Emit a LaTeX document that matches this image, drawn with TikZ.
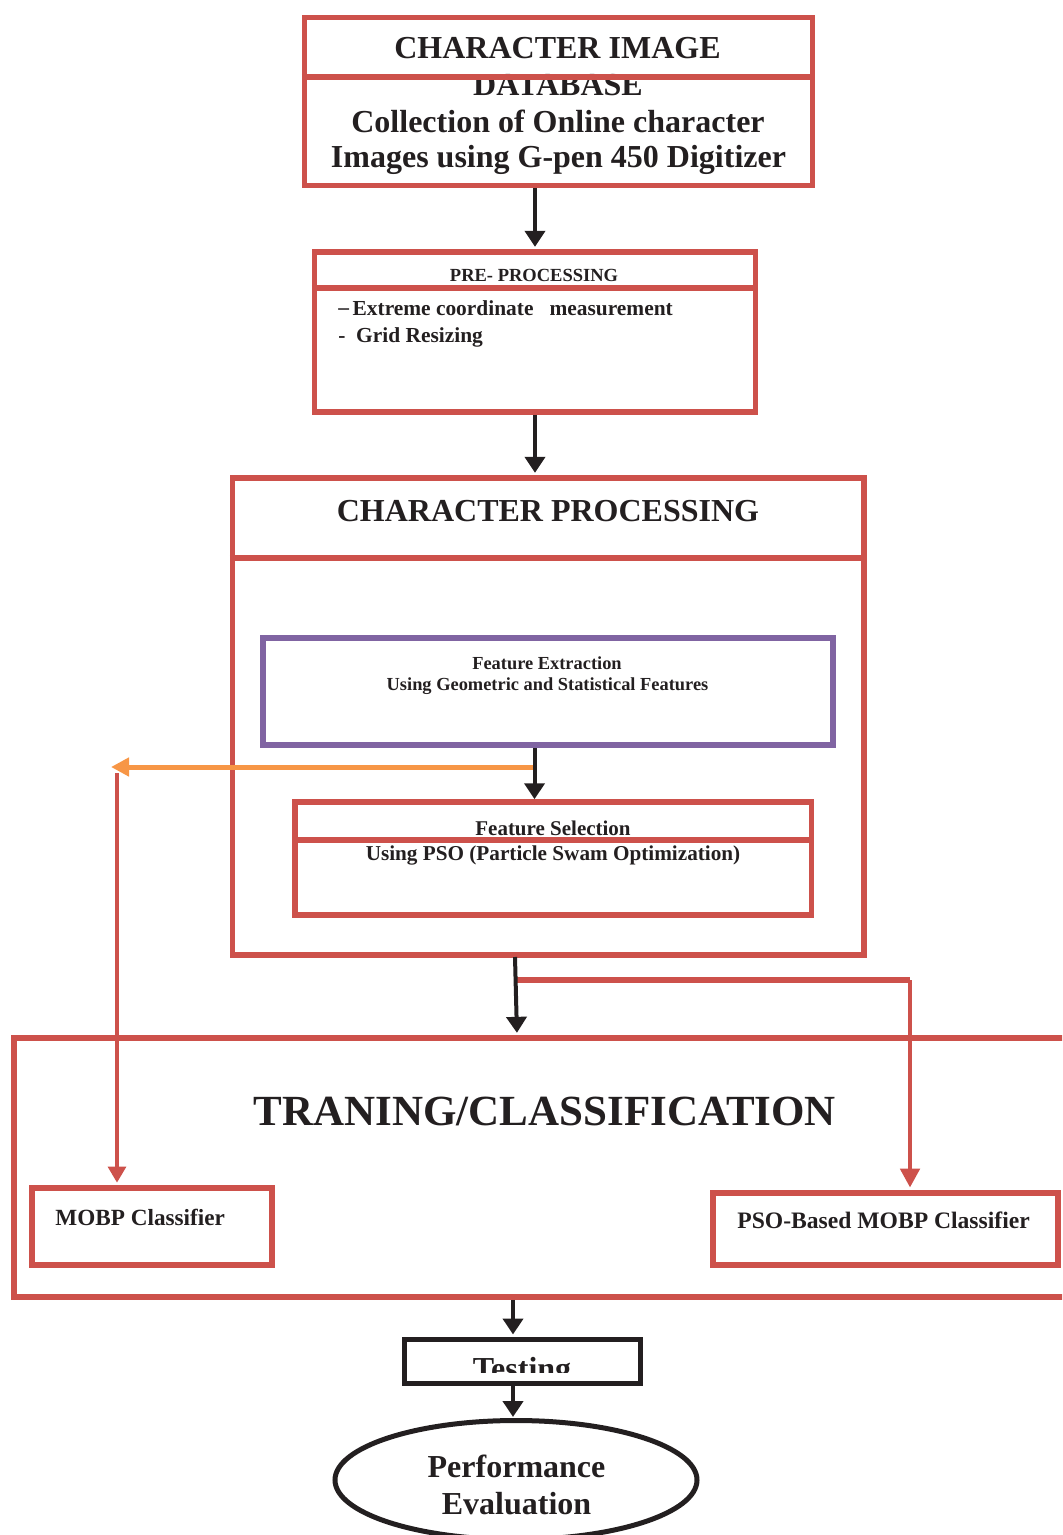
\documentclass[tikz,border=0pt]{standalone}
\usepackage{fontspec}
\setmainfont{Liberation Serif}
\usetikzlibrary{arrows.meta,fit,shapes.geometric}
\definecolor{boxred}{RGB}{205,81,75}
\definecolor{boxpurple}{RGB}{128,100,162}
\definecolor{arrorange}{RGB}{247,150,70}
\definecolor{inkblack}{RGB}{35,31,32}
\newcommand{\fsz}[1]{\fontsize{#1pt}{#1pt}\selectfont}
\tikzset{
  redbox/.style={draw=boxred, line width=2.75pt, inner sep=0pt},
  purplebox/.style={draw=boxpurple, line width=3pt, inner sep=0pt},
  blackbox/.style={draw=inkblack, line width=2.5pt, inner sep=0pt},
  divider/.style={draw=boxred, line width=3pt},
  lbl/.style={anchor=base, inner sep=0pt, font=\bfseries, text=inkblack},
  lbll/.style={lbl, anchor=base west},
  blkarrow/.style={draw=inkblack, line width=2pt, -{Triangle[width=10pt,length=8pt]}},
  orgarrow/.style={draw=arrorange, line width=2.5pt, -{Triangle[width=9pt,length=9pt]}},
  redarrow/.style={draw=boxred, line width=1.6pt, -{Triangle[width=9pt,length=8pt]}},
  redarrowthick/.style={draw=boxred, line width=2.75pt},
}
\begin{document}
\begin{tikzpicture}[x=0.5pt,y=-0.5pt]
\useasboundingbox (0,0) rectangle (1062,1535);
\clip (0,0) rectangle (1062,1535);

% ---------- Box 1 ----------
\node[lbl] (t1a) at (557.5,59) {\fsz{16}CHARACTER IMAGE};
\node[lbl] (t1b) at (558,96) {\fsz{16}DATABASE};
\node[lbl] (t1c) at (558,133) {\fsz{16}Collection of Online character};
\node[lbl] (t1d) at (558.5,168) {\fsz{16}Images using G-pen 450 Digitizer};
\node[redbox, fit={(304.5,17.5) (812.5,185.5)}] (db) {};
\draw[divider] (db.west |- 0,77.5) -- (db.east |- 0,77.5);

% ---------- Box 2 ----------
\node[lbl] (t2a) at (534,282) {\fsz{9.25}PRE- PROCESSING};
\node[lbll] (t2b) at (338,316) {\fsz{10.7}\raisebox{0.6pt}{\textendash}\,Extreme coordinate \ \ measurement};
\node[lbll] (t2c) at (338,343) {\fsz{10.7}- \ Grid Resizing};
\node[redbox, fit={(314.5,252) (755.5,412)}] (pre) {};
\draw[divider] (pre.west |- 0,288) -- (pre.east |- 0,288);

% ---------- Box 3 ----------
\node[lbl] (t3a) at (548,521) {\fsz{16}CHARACTER PROCESSING};
\node[redbox, fit={(232.5,478) (864,955)}] (cp) {};
\draw[divider] (cp.west |- 0,558) -- (cp.east |- 0,558);

\node[lbl] (t4a) at (547,669) {\fsz{9.2}Feature Extraction};
\node[lbl] (t4b) at (547.5,690) {\fsz{9.2}Using Geometric and Statistical Features};
\node[purplebox, fit={(262.5,638) (833,745)}] (fe) {};

\node[lbl] (t5a) at (553,835) {\fsz{10.5}Feature Selection};
\node[lbl] (t5b) at (553,860) {\fsz{10.6}Using PSO (Particle Swam Optimization)};
\node[redbox, fit={(295,802) (811.5,915)}] (fs) {};
\draw[divider] (fs.west |- 0,840) -- (fs.east |- 0,840);

% ---------- Training ----------
\node[lbl] (t6a) at (545,1125) {\fsz{21.5}TRANING/CLASSIFICATION};
\node[redbox, fit={(14,1038) (1075,1297)}] (train) {};
\node[lbll] (t6b) at (55,1225) {\fsz{11.6}MOBP Classifier};
\node[redbox, line width=3pt, fit={(32,1188) (272,1265)}] (mobp) {};
\node[lbll] (t6c) at (737,1228) {\fsz{11.8}PSO-Based MOBP Classifier};
\node[redbox, line width=3pt, fit={(713,1193) (1058,1265)}] (psob) {};

% ---------- Testing / evaluation ----------
\node[blackbox, fit={(404,1339) (640.5,1383)}] (test) {};
\begin{scope}
  \clip (404,1341) rectangle (640,1372);
  \node[lbl] (t7a) at (522,1379) {\fsz{16}Testing};
\end{scope}
\node[draw=inkblack, line width=2.5pt, ellipse, inner sep=0pt,
      minimum width=181pt, minimum height=59.5pt] (perf) at (516,1480) {};
\node[lbl] (t8a) at (516.5,1477) {\fsz{16}Performance};
\node[lbl] (t8b) at (516.5,1514) {\fsz{16}Evaluation};

% ---------- coordinates for connectors ----------
\coordinate (xa) at (535,0);
\coordinate (xb) at (534.5,0);
\coordinate (oj) at (533,767);
\coordinate (ol) at (111,767);
\coordinate (rl) at (117,773);
\coordinate (cpout) at (515,957);
\coordinate (x517) at (517,0);
\coordinate (rj) at (515,980);
\coordinate (rx) at (910,980);
\coordinate (x513) at (513,0);

% ---------- connectors ----------
\draw[blkarrow, shorten >=1.2pt] (db.south -| xa) -- (pre.north -| xa);
\draw[blkarrow, shorten >=1.2pt] (pre.south -| xa) -- (cp.north -| xa);
\draw[blkarrow, shorten >=0pt] (fe.south -| xb) -- (fs.north -| xb);
\draw[orgarrow] (oj) -- (ol);
\draw[redarrow, shorten >=1.2pt] (rl) -- (rl |- mobp.north);
\draw[redarrowthick] (rj) -- (rx);
\draw[redarrow, line width=2.4pt, -{Triangle[width=9.5pt,length=9.5pt]}, shorten >=1.2pt] (rx) -- (rx |- psob.north);
\draw[blkarrow, shorten >=1.2pt] (cpout) -- (train.north -| x517);
\draw[blkarrow, shorten >=1pt] (train.south -| x513) -- (test.north -| x513);
\draw[blkarrow, shorten >=0.5pt] (test.south -| x513) -- (perf.north -| x513);
\end{tikzpicture}
\end{document}
